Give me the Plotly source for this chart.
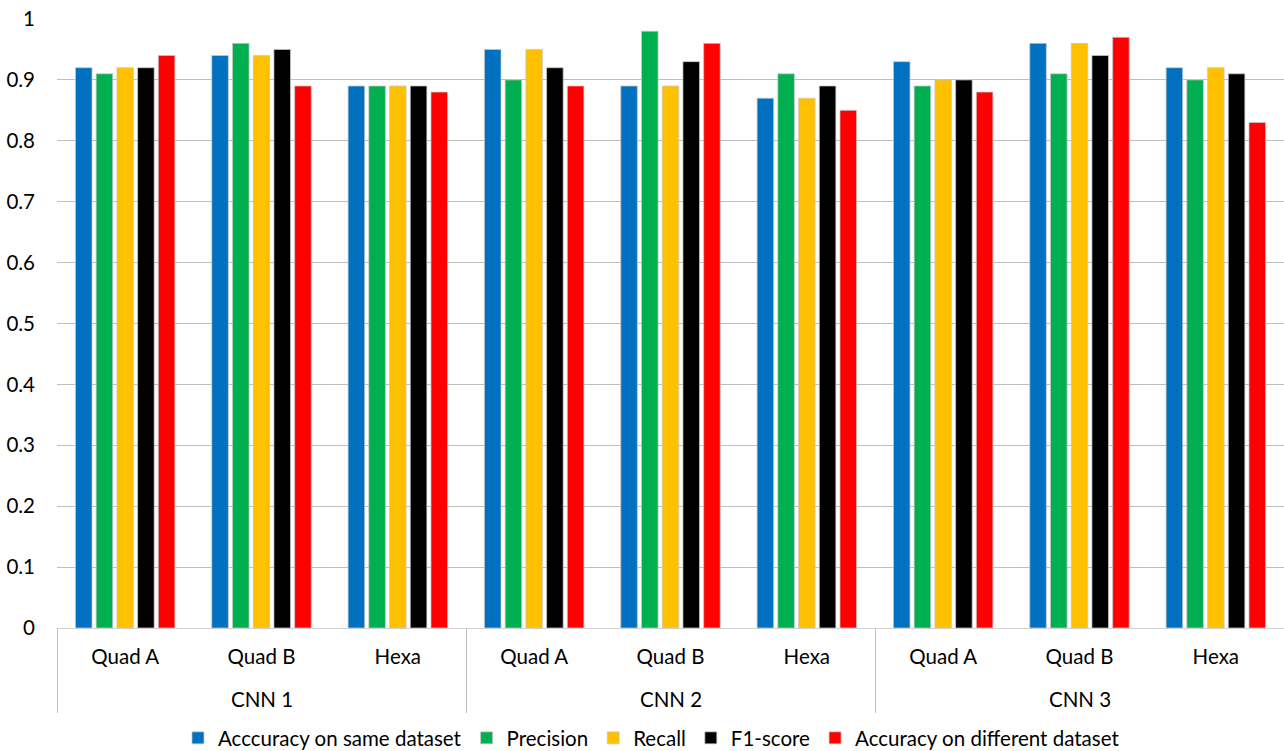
import plotly.graph_objects as go

# Configurations (inner labels) and networks (outer labels)
configs = ["Quad A", "Quad B", "Hexa"] * 3
networks = ["CNN 1", "CNN 2", "CNN 3"]

# Metric values per (network, configuration)
accuracy_same = [0.92, 0.94, 0.89, 0.95, 0.89, 0.87, 0.93, 0.96, 0.92]
precision = [0.91, 0.96, 0.89, 0.90, 0.98, 0.91, 0.89, 0.91, 0.90]
recall = [0.92, 0.94, 0.89, 0.95, 0.89, 0.87, 0.90, 0.96, 0.92]
f1_score = [0.92, 0.95, 0.89, 0.92, 0.93, 0.89, 0.90, 0.94, 0.91]
accuracy_diff = [0.94, 0.89, 0.88, 0.89, 0.96, 0.85, 0.88, 0.97, 0.83]

series = [
    ("Acccuracy on same dataset", accuracy_same, "#0070C0"),
    ("Precision", precision, "#00B050"),
    ("Recall", recall, "#FFC000"),
    ("F1-score", f1_score, "#000000"),
    ("Accuracy on different dataset", accuracy_diff, "#FF0000"),
]

y_ticks = [0, 0.1, 0.2, 0.3, 0.4, 0.5, 0.6, 0.7, 0.8, 0.9, 1]
y_tick_text = ["0", "0.1", "0.2", "0.3", "0.4", "0.5", "0.6", "0.7", "0.8", "0.9", "1"]

FONT = "Lato, 'Open Sans', sans-serif"
FS = 20.5

n_cat = len(configs)
per_group = 3
x_idx = list(range(n_cat))
group_centers = [g * per_group + (per_group - 1) / 2 for g in range(len(networks))]
# divider at the left edge of each network group
group_edges = [g * per_group - 0.5 for g in range(len(networks))]
x_range = [-0.5, n_cat - 0.5]

fig = go.Figure()
for name, vals, color in series:
    fig.add_trace(go.Bar(
        x=x_idx,
        y=vals,
        name=name,
        marker=dict(color=color, line=dict(color="#C8C8C8", width=0.75)),
    ))

# outer group labels, centred under each network's three configurations
for label, xc in zip(networks, group_centers):
    fig.add_annotation(
        x=xc, xref="x",
        y=0, yref="paper",
        yanchor="middle",
        yshift=-71,
        text=label,
        showarrow=False,
        font=dict(family=FONT, size=FS, color="#000000"),
    )

fig.update_layout(
    width=1284,
    height=751,
    barmode="group",
    bargap=0.24,
    bargroupgap=0.2,
    plot_bgcolor="white",
    paper_bgcolor="white",
    margin=dict(l=57, r=0, t=19, b=123, autoexpand=False),
    font=dict(family=FONT, size=FS, color="#000000"),
    showlegend=True,
    legend=dict(
        orientation="h",
        x=0.4845,
        xanchor="center",
        yref="container",
        y=0.0173,
        yanchor="middle",
        font=dict(family=FONT, size=FS, color="#000000"),
        itemwidth=30,
    ),
    # inner category labels plus group dividers
    xaxis=dict(
        range=x_range,
        tickmode="array",
        tickvals=x_idx,
        ticktext=configs,
        ticks="",
        showgrid=False,
        zeroline=False,
        showline=True,
        linecolor="#D0D0D0",
        linewidth=1,
        ticklabelstandoff=10,
        tickfont=dict(family=FONT, size=FS, color="#000000"),
        minor=dict(
            tickmode="array",
            tickvals=group_edges,
            ticks="outside",
            ticklen=84,
            tickwidth=1,
            tickcolor="#C0C0C0",
            showgrid=False,
        ),
    ),
    yaxis=dict(
        range=[0, 1],
        tickvals=y_ticks,
        ticktext=y_tick_text,
        showgrid=True,
        gridcolor="#BEBEBE",
        gridwidth=1,
        zeroline=False,
        showline=False,
        ticks="",
        ticklabelstandoff=21,
        tickfont=dict(family=FONT, size=FS, color="#000000"),
    ),
)

fig.write_html("out.html")
